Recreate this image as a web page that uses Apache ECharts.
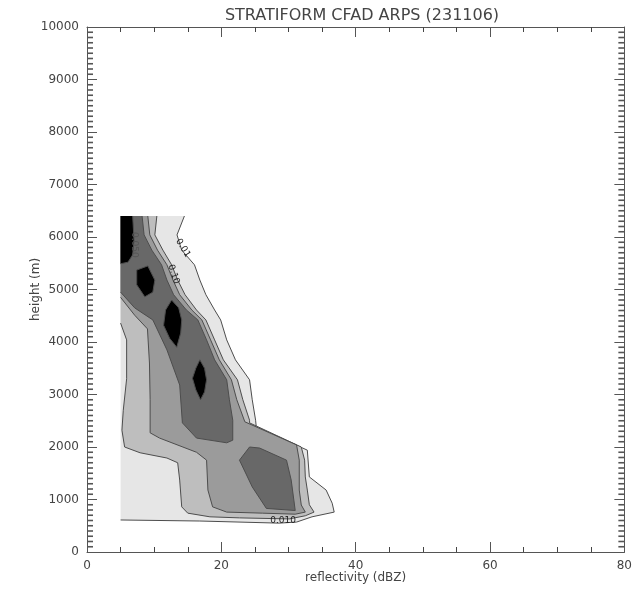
<!DOCTYPE html>
<html>
<head>
<meta charset="utf-8">
<script src="https://cdn.jsdelivr.net/npm/echarts@6/dist/echarts.min.js"></script>
<style>
html,body{margin:0;padding:0;background:#fff;}
#chart{width:635px;height:590px;}
</style>
</head>
<body>
<div id="chart"></div>
<script>
// Axis ticks
const xTicks = [0, 20, 40, 60, 80];
const yTicks = [0, 1000, 2000, 3000, 4000, 5000, 6000, 7000, 8000, 9000, 10000];
const yMinorStep = 100;

// CFAD frequency contours: outlines as [reflectivity (dBZ), height (m)]
// Band 1 (outermost, lowest frequency)
const band1 = [[5,6400],[14.5,6400],[13.4,6040],[14.1,5750],[16.0,5470],[16.8,5180],[17.7,4900],[19.0,4610],[19.9,4420],[20.8,4040],[22.1,3660],[24.2,3280],[24.6,2900],[25.1,2510],[25.2,2380],[32.8,1940],[33.1,1430],[35.6,1180],[36.5,930],[36.8,760],[33.5,670],[31.2,570],[28.6,550],[16.8,590],[5,610]];
// Band 2
const band2 = [[5,6400],[10.4,6400],[10.1,6040],[11.3,5750],[12.6,5470],[13.5,5180],[14.6,4900],[16.3,4610],[17.7,4420],[19.0,4040],[20.3,3660],[22.4,3280],[23.2,2900],[24.2,2510],[24.2,2460],[31.9,2000],[32.4,1750],[32.5,1430],[32.8,1180],[33.1,900],[33.8,760],[32.5,690],[30.1,630],[22.7,650],[18.3,670],[15.0,740],[14.1,860],[13.8,1370],[13.5,1700],[11.9,1790],[7.9,1890],[5.6,2000],[5.2,2320],[5.4,2700],[5.9,3300],[5.9,4040],[5,4360]];
// Band 3
const band3 = [[5,6400],[9.05,6400],[9.35,6040],[10.5,5750],[11.9,5470],[12.8,5180],[13.8,4900],[15.6,4610],[17.1,4420],[18.4,4040],[19.7,3660],[21.5,3280],[22.3,2900],[23.5,2480],[31.2,2040],[31.6,1750],[31.6,1180],[31.9,895],[32.5,760],[31.0,720],[26.1,740],[20.8,760],[18.7,860],[18.0,1180],[17.8,1750],[16.3,1900],[10.8,2170],[9.4,2270],[9.4,2900],[9.3,3600],[9.0,4250],[7.1,4510],[5,4850]];
// Band 4: upper ridge and low-level maximum
const band4Upper = [[5,6400],[8.2,6400],[8.5,6040],[9.65,5750],[11.1,5470],[11.9,5180],[12.9,4900],[14.8,4610],[16.5,4420],[17.8,4040],[19.0,3660],[20.8,3280],[21.2,2900],[21.7,2510],[21.7,2130],[20.8,2080],[16.3,2170],[14.2,2460],[13.8,3180],[11.9,3850],[9.8,4420],[7.1,4650],[5,4950]];
const band4Lower = [[24.2,2000],[25.7,1980],[29.7,1750],[30.4,1370],[31.0,790],[26.7,830],[24.6,1240],[22.7,1750]];
// Band 5 (highest frequency cores)
const core1 = [[5,6400],[6.8,6400],[7.0,5940],[6.8,5660],[6.1,5520],[5,5490]];
const core2 = [[7.4,5370],[9.05,5450],[10.1,5180],[9.8,4950],[8.6,4860],[7.4,5090]];
const core3 = [[12.6,4800],[13.65,4650],[14.1,4420],[13.95,4170],[13.36,3900],[12.3,4070],[11.4,4320],[11.7,4610]];
const core4 = [[16.8,3660],[17.5,3500],[17.8,3280],[17.5,3050],[16.9,2900],[16.2,3090],[15.7,3310],[16.2,3500]];

// Contour labels: [dBZ, height, text]
const contourLabels = [[14.3,5790,'0.01'],[12.9,5290,'0.10'],[7.0,5850,'0.050'],[29.2,600,'0.010']];

const bandColors = ['#e6e6e6', '#bebebe', '#9b9b9b', '#686868', '#000000'];

// shapes drawn in order; edge=true means the outline is clipped by the data domain
// (first segment and closing segment are not contour lines)
const shapes = [
  {pts: band1, level: 0, edge: true},
  {pts: band2, level: 1, edge: true},
  {pts: band3, level: 2, edge: true},
  {pts: band4Upper, level: 3, edge: true},
  {pts: band4Lower, level: 3, edge: false},
  {pts: core1, level: 4, edge: true},
  {pts: core2, level: 4, edge: false},
  {pts: core3, level: 4, edge: false},
  {pts: core4, level: 4, edge: false}
];
const labelAngles = [-58, -72, -90, 0];

const lineColor = '#4d4d4d';
const axisColor = '#555';
const tickColor = '#444';
const fontFam = 'DejaVu Sans';

const chart = echarts.init(document.getElementById('chart'), null, {renderer: 'canvas'});

function axisCommon(showLabels) {
  return {
    type: 'value',
    axisLine: {show: true, onZero: false, lineStyle: {color: axisColor, width: 1}},
    axisTick: {show: true, inside: true, length: 10, lineStyle: {color: axisColor}},
    splitLine: {show: false},
    minorSplitLine: {show: false},
    axisLabel: {show: showLabels, color: '#444', fontFamily: fontFam, fontSize: 12,
      formatter: v => String(v)}
  };
}

const xMin = xTicks[0], xMax = xTicks[xTicks.length - 1], xStep = xTicks[1] - xTicks[0];
const yMin = yTicks[0], yMax = yTicks[yTicks.length - 1], yStep = yTicks[1] - yTicks[0];
const xMinorTick = {show: true, splitNumber: 4, length: 5, lineStyle: {color: tickColor, width: 1}};

const option = {
  backgroundColor: '#fff',
  animation: false,
  title: {
    text: 'STRATIFORM CFAD ARPS (231106)',
    left: 357, top: 3, textAlign: 'center',
    textStyle: {fontFamily: fontFam, fontSize: 16, fontWeight: 'normal', color: '#444'}
  },
  grid: {left: 87, right: 9, top: 27, bottom: 38, containLabel: false},
  xAxis: [
    Object.assign(axisCommon(true), {
      min: xMin, max: xMax, interval: xStep, position: 'bottom', minorTick: xMinorTick,
      name: 'reflectivity (dBZ)', nameLocation: 'middle', nameGap: 20, nameMoveOverlap: false,
      nameTextStyle: {fontFamily: fontFam, fontSize: 12, color: '#444'}
    }),
    Object.assign(axisCommon(false), {
      min: xMin, max: xMax, interval: xStep, position: 'top', minorTick: xMinorTick
    })
  ],
  yAxis: [
    Object.assign(axisCommon(true), {
      min: yMin, max: yMax, interval: yStep, position: 'left',
      name: 'height (m)', nameLocation: 'middle', nameGap: 45, nameMoveOverlap: false,
      nameTextStyle: {fontFamily: fontFam, fontSize: 12, color: '#444'}
    }),
    Object.assign(axisCommon(false), {
      min: yMin, max: yMax, interval: yStep, position: 'right'
    })
  ],
  series: [
    {
      type: 'custom',
      coordinateSystem: 'cartesian2d',
      xAxisIndex: 0, yAxisIndex: 0,
      silent: true,
      data: shapes.map(s => s.pts[0]),
      renderItem: function (params, api) {
        const s = shapes[params.dataIndex];
        const pts = s.pts.map(p => api.coord(p));
        const children = [{
          type: 'polygon',
          shape: {points: pts},
          style: {fill: bandColors[s.level], stroke: null}
        }];
        if (s.edge) {
          children.push({
            type: 'polyline',
            shape: {points: pts.slice(1)},
            style: {fill: null, stroke: lineColor, lineWidth: 1}
          });
        } else {
          children.push({
            type: 'polygon',
            shape: {points: pts},
            style: {fill: null, stroke: lineColor, lineWidth: 1}
          });
        }
        return {type: 'group', children: children};
      },
      z: 1
    },
    {
      type: 'custom',
      coordinateSystem: 'cartesian2d',
      xAxisIndex: 0, yAxisIndex: 0,
      silent: true,
      data: contourLabels.map(l => [l[0], l[1]]),
      renderItem: function (params, api) {
        const l = contourLabels[params.dataIndex];
        const c = api.coord([l[0], l[1]]);
        return {
          type: 'text',
          x: c[0], y: c[1],
          rotation: labelAngles[params.dataIndex] * Math.PI / 180,
          style: {
            text: l[2], fontFamily: fontFam, fontSize: 9,
            fill: params.dataIndex === 2 ? '#555' : '#222',
            align: 'center', verticalAlign: 'middle'
          }
        };
      },
      z: 2
    },
    {
      // short minor ticks every 100 m on the left and right frames
      type: 'custom',
      coordinateSystem: 'cartesian2d',
      xAxisIndex: 0, yAxisIndex: 0,
      silent: true,
      clip: false,
      data: [[xMin, yMin]],
      renderItem: function (params, api) {
        const left = api.coord([xMin, yMin])[0];
        const right = api.coord([xMax, yMin])[0];
        const children = [];
        for (let h = yMin + yMinorStep; h < yMax; h += yMinorStep) {
          if (h % yStep === 0) continue;
          const y = api.coord([xMin, h])[1];
          children.push({type: 'line', shape: {x1: left, y1: y, x2: left + 6, y2: y},
            style: {stroke: '#555', lineWidth: 1.6}});
          children.push({type: 'line', shape: {x1: right - 6, y1: y, x2: right, y2: y},
            style: {stroke: '#555', lineWidth: 1.6}});
        }
        return {type: 'group', children: children};
      },
      z: 3
    }
  ]
};

chart.setOption(option);
</script>
</body>
</html>
